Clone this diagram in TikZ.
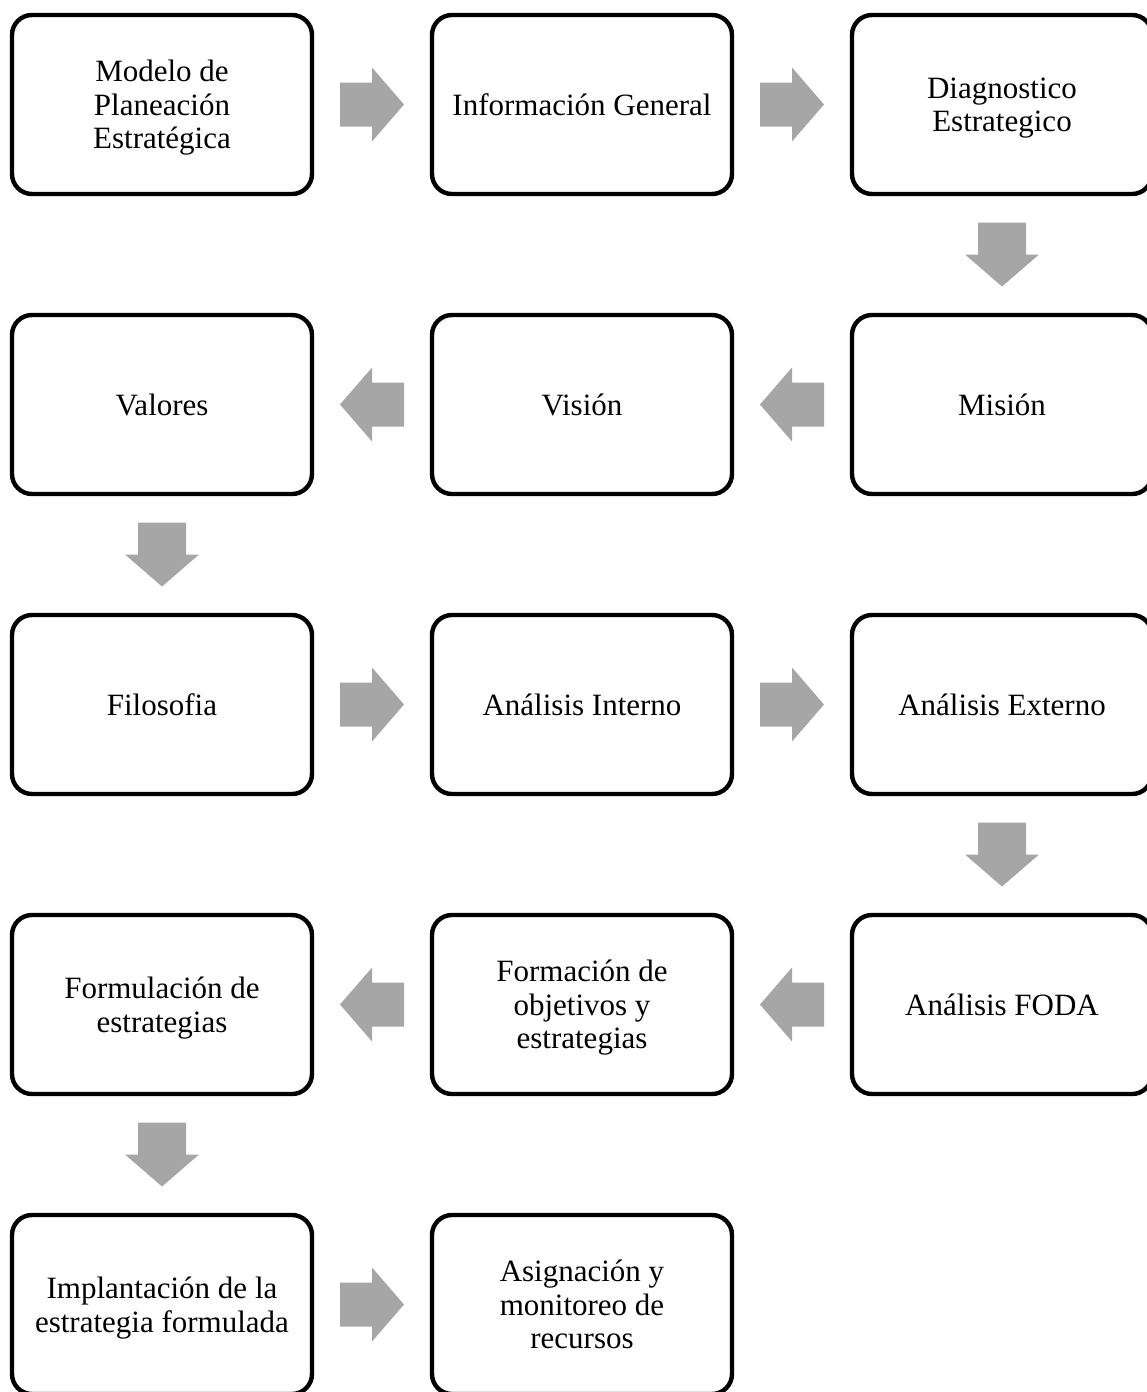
\documentclass[tikz,border=0pt]{standalone}
\usepackage{fontspec}
\setmainfont{Liberation Serif}
\usetikzlibrary{calc}
\definecolor{arrowgray}{HTML}{A6A6A6}
\tikzset{
  stage/.style={draw=black, line width=4.4pt, rounded corners=20pt,
    minimum width=300pt, minimum height=179pt, align=center,
    inner sep=0pt, text depth=0pt, font=\fontsize{31}{33.5}\selectfont},
  goright/.pic={\fill[arrowgray] (-32,-22) -- (0,-22) -- (0,-37) -- (32,0)
      -- (0,37) -- (0,22) -- (-32,22) -- cycle;},
  goleft/.pic={\fill[arrowgray] (32,-22) -- (0,-22) -- (0,-37) -- (-32,0)
      -- (0,37) -- (0,22) -- (32,22) -- cycle;},
  godown/.pic={\fill[arrowgray] (-24,-32) -- (24,-32) -- (24,0) -- (37,0)
      -- (0,32) -- (-37,0) -- (-24,0) -- cycle;}
}
\begin{document}
\begin{tikzpicture}[x=1pt, y=-1pt]
  \useasboundingbox (0,0) rectangle (1147,1392);
  \begin{scope}
    \clip (0,0) rectangle (1147,1392);
    % row 1
    \node[stage] (m1)  at (162,104.5)  {Modelo de\\Planeación\\Estratégica};
    \node[stage] (m2)  at (582,104.5)  {Información General};
    \node[stage] (m3)  at (1002,104.5) {Diagnostico\\Estrategico};
    % row 2
    \node[stage] (m4)  at (1002,404.5) {Misión};
    \node[stage] (m5)  at (582,404.5)  {Visión};
    \node[stage] (m6)  at (162,404.5)  {Valores};
    % row 3
    \node[stage] (m7)  at (162,704.5)  {Filosofia};
    \node[stage] (m8)  at (582,704.5)  {Análisis Interno};
    \node[stage] (m9)  at (1002,704.5) {Análisis Externo};
    % row 4
    \node[stage] (m10) at (1002,1004.5) {Análisis FODA};
    \node[stage] (m11) at (582,1004.5)  {Formación de\\objetivos y\\estrategias};
    \node[stage] (m12) at (162,1004.5)  {Formulación de\\estrategias};
    % row 5
    \node[stage] (m13) at (162,1304.5)  {Implantación de la\\estrategia formulada};
    \node[stage] (m14) at (582,1304.5)  {Asignación y\\monitoreo de\\recursos};
  \end{scope}
  % block arrows between consecutive stages
  \path ($(m1.east)!0.5!(m2.west)$) pic {goright};
  \path ($(m2.east)!0.5!(m3.west)$) pic {goright};
  \path ($(m3.south)!0.5!(m4.north)$) pic {godown};
  \path ($(m4.west)!0.5!(m5.east)$) pic {goleft};
  \path ($(m5.west)!0.5!(m6.east)$) pic {goleft};
  \path ($(m6.south)!0.5!(m7.north)$) pic {godown};
  \path ($(m7.east)!0.5!(m8.west)$) pic {goright};
  \path ($(m8.east)!0.5!(m9.west)$) pic {goright};
  \path ($(m9.south)!0.5!(m10.north)$) pic {godown};
  \path ($(m10.west)!0.5!(m11.east)$) pic {goleft};
  \path ($(m11.west)!0.5!(m12.east)$) pic {goleft};
  \path ($(m12.south)!0.5!(m13.north)$) pic {godown};
  \path ($(m13.east)!0.5!(m14.west)$) pic {goright};
\end{tikzpicture}
\end{document}
